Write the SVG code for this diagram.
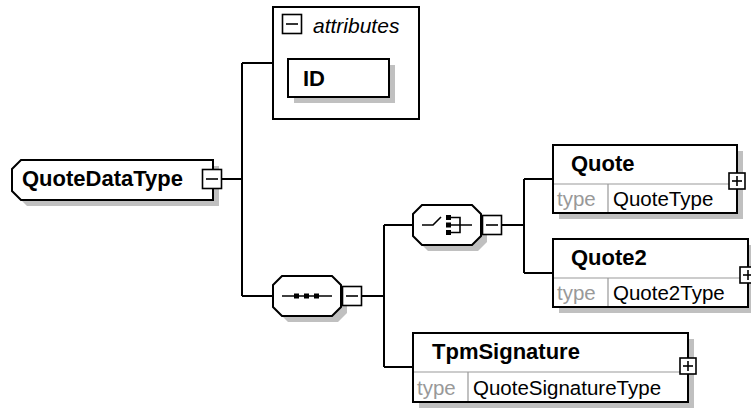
<svg xmlns="http://www.w3.org/2000/svg" width="751" height="408" viewBox="0 0 751 408">
<style>
.ln{stroke:#000;stroke-width:2;fill:none}
.bx{fill:#fff;stroke:#000;stroke-width:2}
.pm{fill:#fff;stroke:#000;stroke-width:1.6}
.sg{stroke:#000;stroke-width:1.6;fill:none}
.sh{fill:#c0c0c0;stroke:none}
.dv{stroke:#999;stroke-width:1.2;fill:none}
.nm{font-family:"Liberation Sans",Arial,sans-serif;font-weight:bold;font-size:22px;fill:#000}
.tl{font-family:"Liberation Sans",Arial,sans-serif;font-size:20.5px;fill:#999}
.tv{font-family:"Liberation Sans",Arial,sans-serif;font-size:20.5px;fill:#000}
.it{font-family:"Liberation Sans",Arial,sans-serif;font-style:italic;font-size:21px;fill:#000}
.dot{fill:#000}
</style>
<defs>
<g id="mn"><rect x="-9.5" y="-9.5" width="19" height="19" class="pm"/><line x1="-6" y1="0" x2="6" y2="0" class="sg"/></g>
<g id="pl"><rect x="-8" y="-8" width="16" height="16" class="pm"/><line x1="-5" y1="0" x2="5" y2="0" class="sg"/><line x1="0" y1="-5" x2="0" y2="5" class="sg"/></g>
</defs>
<rect x="0" y="0" width="751" height="408" fill="#fff"/>

<g id="connectors">
<path class="ln" d="M222,179 H242 M242,63 V296 M242,63 H273 M242,296 H273 M361,296 H384 M384,225 V367 M384,225 H413 M384,367 H413 M501,225 H524 M524,179 V273 M524,179 H553 M524,273 H553"/>
</g>

<g id="QuoteDataType">
<polygon class="sh" transform="translate(6,6)" points="12,169 21,160 213,160 213,200 21,200 12,191"/>
<polygon class="bx" points="12,169 21,160 213,160 213,200 21,200 12,191"/>
<text class="nm" x="22" y="186">QuoteDataType</text>
<use href="#mn" x="212" y="179"/>
</g>

<g id="attributes">
<rect class="bx" x="273" y="7" width="146" height="112"/>
<use href="#mn" x="292" y="24"/>
<text class="it" x="313" y="33">attributes</text>
</g>

<g id="ID">
<rect class="sh" x="294" y="65" width="101" height="38"/>
<rect class="bx" x="288" y="59" width="101" height="38"/>
<text class="nm" x="303" y="86">ID</text>
</g>

<g id="sequence">
<polygon class="sh" transform="translate(6,6)" points="273,285 282,276 332,276 341,285 341,307 332,316 282,316 273,307"/>
<polygon class="bx" points="273,285 282,276 332,276 341,285 341,307 332,316 282,316 273,307"/>
<line class="sg" x1="282" y1="296" x2="332" y2="296"/>
<rect class="dot" x="294" y="293.5" width="5" height="5"/>
<rect class="dot" x="304" y="293.5" width="5" height="5"/>
<rect class="dot" x="314" y="293.5" width="5" height="5"/>
<use href="#mn" x="352" y="296"/>
</g>

<g id="choice">
<polygon class="sh" transform="translate(6,6)" points="413,214 422,205 472,205 481,214 481,236 472,245 422,245 413,236"/>
<polygon class="bx" points="413,214 422,205 472,205 481,214 481,236 472,245 422,245 413,236"/>
<path class="sg" d="M422,225 H433 L441,217 M451,217.5 H460 V232.5 H451 M451,225 H472"/>
<rect class="dot" x="446" y="215" width="5" height="5"/>
<rect class="dot" x="446" y="222.5" width="5" height="5"/>
<rect class="dot" x="446" y="230" width="5" height="5"/>
<use href="#mn" x="492" y="225"/>
</g>

<g id="Quote">
<rect class="sh" x="559" y="151" width="184" height="68"/>
<rect class="bx" x="553" y="145" width="184" height="68"/>
<path class="dv" d="M554,184 H736 M608,184 V212"/>
<text class="nm" x="571" y="171">Quote</text>
<text class="tl" x="557" y="206">type</text>
<text class="tv" x="613" y="206">QuoteType</text>
<use href="#pl" x="737" y="181"/>
</g>

<g id="Quote2">
<rect class="sh" x="559" y="245" width="195" height="68"/>
<rect class="bx" x="553" y="239" width="195" height="68"/>
<path class="dv" d="M554,278 H747 M608,278 V306"/>
<text class="nm" x="571" y="265">Quote2</text>
<text class="tl" x="557" y="300">type</text>
<text class="tv" x="613" y="300">Quote2Type</text>
<use href="#pl" x="748" y="275"/>
</g>

<g id="TpmSignature">
<rect class="sh" x="419" y="339" width="275" height="69"/>
<rect class="bx" x="413" y="333" width="275" height="69"/>
<path class="dv" d="M414,372 H687 M468,372 V401"/>
<text class="nm" x="432" y="359">TpmSignature</text>
<text class="tl" x="417" y="395">type</text>
<text class="tv" x="473" y="395">QuoteSignatureType</text>
<use href="#pl" x="688" y="366"/>
</g>
</svg>
